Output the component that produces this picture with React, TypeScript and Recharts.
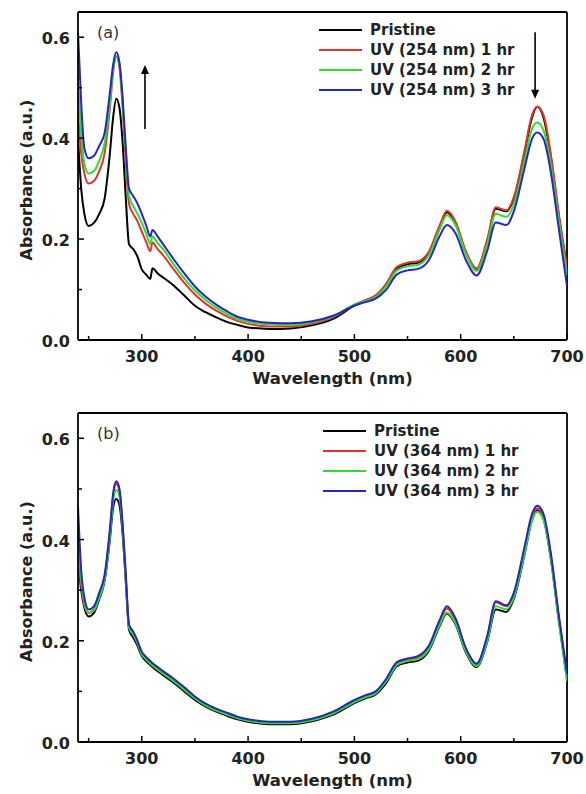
import React from 'react';
import { LineChart, Line, XAxis, YAxis, Legend, ReferenceLine, Label } from 'recharts';

// wavelength grid (nm), shared by both panels
const wavelength = [
  240, 243, 246, 250, 255, 260, 265, 270, 273, 276,
  279, 282, 285, 288, 292, 296, 300, 304, 308, 310,
  315, 320, 330, 340, 350, 360, 370, 380, 390, 400,
  420, 440, 460, 480, 500, 510, 520, 530, 540, 550,
  560, 570, 580, 587, 595, 605, 615, 625, 633, 643,
  650, 660, 667, 672, 678, 685, 692, 700,
];

// panel (a) : UV 254 nm
const pristineA = [
  0.40, 0.30, 0.25, 0.226, 0.232, 0.25, 0.28, 0.37, 0.44, 0.478,
  0.46, 0.39, 0.28, 0.19, 0.18, 0.165, 0.14, 0.13, 0.121, 0.142,
  0.132, 0.124, 0.108, 0.088, 0.068, 0.055, 0.045, 0.036, 0.03, 0.025,
  0.022, 0.023, 0.029, 0.042, 0.068, 0.078, 0.088, 0.11, 0.142, 0.15,
  0.153, 0.172, 0.222, 0.253, 0.232, 0.172, 0.14, 0.195, 0.26, 0.255,
  0.28, 0.37, 0.44, 0.462, 0.44, 0.36, 0.25, 0.145,
];
const uv1A = [
  0.45, 0.37, 0.33, 0.31, 0.315, 0.335, 0.37, 0.46, 0.53, 0.562,
  0.54, 0.46, 0.35, 0.27, 0.25, 0.235, 0.215, 0.195, 0.176, 0.193,
  0.18, 0.168, 0.14, 0.113, 0.09, 0.072, 0.058, 0.047, 0.038, 0.032,
  0.027, 0.027, 0.032, 0.045, 0.07, 0.079, 0.088, 0.112, 0.145, 0.153,
  0.156, 0.175, 0.226, 0.256, 0.235, 0.175, 0.142, 0.2, 0.263, 0.257,
  0.283, 0.375, 0.445, 0.462, 0.445, 0.365, 0.255, 0.145,
];
const uv2A = [
  0.52, 0.41, 0.35, 0.33, 0.335, 0.355, 0.39, 0.47, 0.535, 0.563,
  0.545, 0.47, 0.37, 0.285, 0.265, 0.25, 0.232, 0.212, 0.19, 0.205,
  0.192, 0.18, 0.15, 0.122, 0.098, 0.08, 0.064, 0.052, 0.042, 0.036,
  0.031, 0.03, 0.035, 0.047, 0.07, 0.077, 0.085, 0.107, 0.138, 0.146,
  0.149, 0.168, 0.218, 0.247, 0.228, 0.17, 0.137, 0.19, 0.25, 0.244,
  0.268, 0.355, 0.418, 0.431, 0.415, 0.345, 0.24, 0.128,
];
const uv3A = [
  0.61, 0.47, 0.38, 0.36, 0.365, 0.385, 0.41, 0.49, 0.545, 0.57,
  0.55, 0.48, 0.38, 0.3, 0.285, 0.27, 0.25, 0.228, 0.205, 0.218,
  0.205, 0.19, 0.16, 0.132, 0.106, 0.086, 0.07, 0.057, 0.046, 0.04,
  0.034, 0.033, 0.037, 0.048, 0.068, 0.075, 0.082, 0.1, 0.13, 0.138,
  0.141, 0.158, 0.205, 0.228, 0.212, 0.158, 0.128, 0.177, 0.233, 0.228,
  0.255, 0.34, 0.398, 0.411, 0.398, 0.33, 0.225, 0.107,
];

// panel (b) : UV 364 nm
const pristineB = [
  0.36, 0.3, 0.265, 0.248, 0.255, 0.282, 0.318, 0.4, 0.462, 0.48,
  0.468, 0.41, 0.315, 0.222, 0.206, 0.19, 0.17, 0.16, 0.152, 0.148,
  0.14, 0.132, 0.117, 0.1, 0.083, 0.07, 0.06, 0.052, 0.045, 0.04,
  0.035, 0.035, 0.041, 0.054, 0.077, 0.086, 0.094, 0.117, 0.15, 0.157,
  0.161, 0.18, 0.228, 0.254, 0.233, 0.176, 0.148, 0.198, 0.262, 0.257,
  0.283, 0.37, 0.438, 0.458, 0.44, 0.36, 0.245, 0.125,
];
const uv1B = [
  0.36, 0.31, 0.27, 0.255, 0.262, 0.29, 0.325, 0.415, 0.485, 0.51,
  0.495, 0.425, 0.325, 0.228, 0.214, 0.197, 0.175, 0.165, 0.157, 0.153,
  0.145, 0.137, 0.122, 0.105, 0.088, 0.074, 0.064, 0.056, 0.048, 0.043,
  0.038, 0.038, 0.044, 0.058, 0.081, 0.09, 0.098, 0.122, 0.155, 0.163,
  0.167, 0.187, 0.236, 0.264, 0.241, 0.182, 0.152, 0.207, 0.276, 0.268,
  0.292, 0.38, 0.445, 0.462, 0.445, 0.365, 0.25, 0.13,
];
const uv2B = [
  0.42, 0.32, 0.275, 0.255, 0.26, 0.285, 0.32, 0.405, 0.475, 0.498,
  0.485, 0.42, 0.32, 0.226, 0.212, 0.195, 0.173, 0.163, 0.155, 0.151,
  0.143, 0.135, 0.12, 0.103, 0.086, 0.072, 0.062, 0.054, 0.047, 0.042,
  0.037, 0.037, 0.043, 0.056, 0.079, 0.088, 0.096, 0.12, 0.152, 0.16,
  0.164, 0.183, 0.23, 0.256, 0.235, 0.178, 0.15, 0.2, 0.268, 0.262,
  0.286, 0.372, 0.437, 0.455, 0.438, 0.358, 0.243, 0.12,
];
const uv3B = [
  0.465, 0.34, 0.285, 0.262, 0.268, 0.295, 0.33, 0.42, 0.49, 0.515,
  0.5, 0.43, 0.33, 0.232, 0.218, 0.2, 0.178, 0.168, 0.16, 0.156,
  0.148, 0.14, 0.125, 0.108, 0.09, 0.076, 0.066, 0.058, 0.05, 0.045,
  0.04, 0.04, 0.046, 0.06, 0.083, 0.092, 0.1, 0.125, 0.158, 0.165,
  0.17, 0.19, 0.24, 0.268, 0.245, 0.185, 0.155, 0.21, 0.278, 0.27,
  0.295, 0.385, 0.45, 0.467, 0.45, 0.37, 0.255, 0.135,
];

const xTicks = [250, 300, 350, 400, 450, 500, 550, 600, 650, 700];
const yTicks = [0, 0.1, 0.2, 0.3, 0.4, 0.5, 0.6];
const colors = ['#000000', '#e8312a', '#2edc2e', '#2525c8'];
const font = '"DejaVu Sans", sans-serif';

const XTick = (props: any) => {
  const { x, y, payload } = props;
  const major = payload.value % 100 === 0;
  return (
    <g>
      <line x1={x} x2={x} y1={y} y2={y - (major ? 6 : 4)} stroke="#000" strokeWidth={1.5} />
      {major && (
        <text x={x} y={y + 22} textAnchor="middle" fontFamily={font} fontWeight="bold" fontSize={16} fill="#222">
          {payload.value}
        </text>
      )}
    </g>
  );
};

const YTick = (props: any) => {
  const { x, y, payload } = props;
  const major = Math.round(payload.value * 10) % 2 === 0;
  return (
    <g>
      <line x1={x} x2={x + (major ? 6 : 4)} y1={y} y2={y} stroke="#000" strokeWidth={1.5} />
      {major && (
        <text x={x - 8} y={y + 7} textAnchor="end" fontFamily={font} fontWeight="bold" fontSize={16} fill="#222">
          {payload.value.toFixed(1)}
        </text>
      )}
    </g>
  );
};

const Arrow = (props: any) => {
  const { x1, y1, x2, y2 } = props;
  const dir = y2 < y1 ? -1 : 1;
  return (
    <g>
      <line x1={x1} y1={y1} x2={x2} y2={y2 - dir * 6} stroke="#000" strokeWidth={1.6} />
      <polygon points={`${x2},${y2} ${x2 - 4},${y2 - dir * 9} ${x2 + 4},${y2 - dir * 9}`} fill="#000" />
    </g>
  );
};

// plain line drawn from the reference-line endpoints (used for the frame)
const Edge = (props: any) => (
  <line x1={props.x1} y1={props.y1} x2={props.x2} y2={props.y2} stroke="#000" strokeWidth={1.8} />
);

const renderLegend = (props: any) => (
  <div style={{ fontFamily: font, fontWeight: 'bold', fontSize: 15, color: '#222', whiteSpace: 'nowrap' }}>
    {props.payload.map((p: any) => (
      <div key={p.value} style={{ display: 'flex', alignItems: 'center', height: 20 }}>
        <span style={{ width: 43, height: 2, flexShrink: 0, background: p.color, marginRight: 8 }} />
        <span>{p.value}</span>
      </div>
    ))}
  </div>
);

function Panel({ tag, lamp, series, top, bottom, legendTop, legendLeft, arrows }: any) {
  const data = wavelength.map((w, i) => ({
    w,
    s0: series[0][i],
    s1: series[1][i],
    s2: series[2][i],
    s3: series[3][i],
  }));
  const names = ['Pristine', `UV (${lamp} nm) 1 hr`, `UV (${lamp} nm) 2 hr`, `UV (${lamp} nm) 3 hr`];
  return (
    <div style={{ position: 'relative', width: 586, height: 397 }}>
      <LineChart width={586} height={397} data={data} margin={{ top, right: 19, bottom: 0, left: 0 }}>
        <XAxis
          dataKey="w"
          type="number"
          domain={[240, 700]}
          ticks={xTicks}
          allowDataOverflow
          height={397 - bottom}
          tickSize={0}
          tickMargin={0}
          tickLine={false}
          tick={<XTick />}
          axisLine={{ stroke: '#000', strokeWidth: 1.8 }}
        >
          <Label
            content={(p: any) => (
              <text
                x={p.viewBox.x + p.viewBox.width / 2 + 10}
                y={p.viewBox.y + 44}
                textAnchor="middle"
                fontFamily={font}
                fontWeight="bold"
                fontSize={16.5}
                fill="#222"
              >
                Wavelength (nm)
              </text>
            )}
          />
        </XAxis>
        <YAxis
          type="number"
          domain={[0, 0.65]}
          ticks={yTicks}
          allowDataOverflow
          width={78}
          tickSize={0}
          tickMargin={0}
          tickLine={false}
          tick={<YTick />}
          axisLine={{ stroke: '#000', strokeWidth: 1.8 }}
        >
          <Label
            content={(p: any) => {
              const cy = p.viewBox.y + p.viewBox.height / 2 + 4;
              return (
                <text
                  x={26}
                  y={cy}
                  transform={`rotate(-90 26 ${cy})`}
                  textAnchor="middle"
                  dominantBaseline="central"
                  fontFamily={font}
                  fontWeight="bold"
                  fontSize={16}
                  fill="#222"
                >
                  Absorbance (a.u.)
                </text>
              );
            }}
          />
        </YAxis>
        {/* top and right edges of the frame */}
        <ReferenceLine segment={[{ x: 240, y: 0.65 }, { x: 700, y: 0.65 }]} shape={<Edge />} ifOverflow="visible" />
        <ReferenceLine segment={[{ x: 700, y: 0 }, { x: 700, y: 0.65 }]} shape={<Edge />} ifOverflow="visible" />
        <Legend
          layout="horizontal"
          verticalAlign="middle"
          align="center"
          content={renderLegend}
          wrapperStyle={{ top: legendTop, left: legendLeft, width: 'auto' }}
        />
        {arrows.map((a: any, i: number) => (
          <ReferenceLine key={i} segment={a} shape={<Arrow />} />
        ))}
        {[0, 1, 2, 3].map((k) => (
          <Line
            key={k}
            dataKey={`s${k}`}
            name={names[k]}
            type="monotone"
            stroke={colors[k]}
            strokeWidth={2}
            dot={false}
            isAnimationActive={false}
          />
        ))}
      </LineChart>
      <div style={{ position: 'absolute', left: 97, top: top + 12, fontFamily: font, fontSize: 16, color: '#333', lineHeight: '18px' }}>
        ({tag})
      </div>
    </div>
  );
}

export default function App() {
  return (
    <div style={{ position: 'absolute', left: 0, top: 0, width: 586, height: 794, background: '#fff' }}>
      <Panel
        tag="a"
        lamp={254}
        series={[pristineA, uv1A, uv2A, uv3A]}
        top={12}
        bottom={340}
        legendTop={20}
        legendLeft={319}
        arrows={[
          [{ x: 303, y: 0.418 }, { x: 303, y: 0.545 }],
          [{ x: 670, y: 0.61 }, { x: 670, y: 0.478 }],
        ]}
      />
      <Panel
        tag="b"
        lamp={364}
        series={[pristineB, uv1B, uv2B, uv3B]}
        top={16}
        bottom={345}
        legendTop={24}
        legendLeft={323}
        arrows={[]}
      />
    </div>
  );
}
